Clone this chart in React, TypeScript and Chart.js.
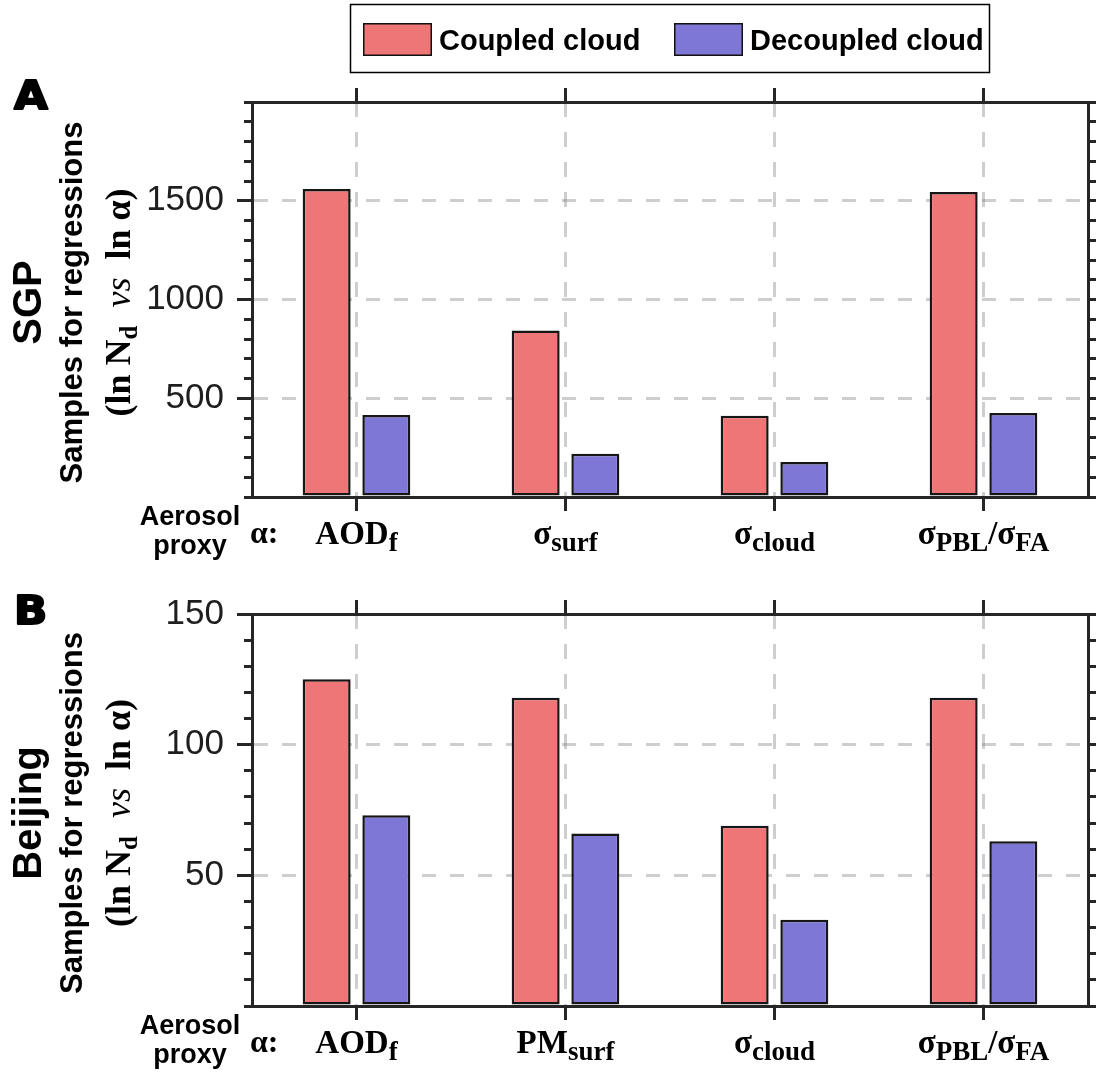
import { useEffect, useRef } from 'react';
import { Chart, registerables } from 'chart.js';

Chart.register(...registerables);

// ---------- data ----------
const seriesNames = ['Coupled cloud', 'Decoupled cloud'];

// SGP site
const sgpProxies = ['AOD_{f}', 'σ_{surf}', 'σ_{cloud}', 'σ_{PBL}/σ_{FA}'];
const sgpCoupled = [1560, 843, 412, 1544];
const sgpDecoupled = [415, 219, 177, 425];
const sgpTickLabels = [500, 1000, 1500];

// Beijing site
const bjProxies = ['AOD_{f}', 'PM_{surf}', 'σ_{cloud}', 'σ_{PBL}/σ_{FA}'];
const bjCoupled = [125, 118, 69, 118];
const bjDecoupled = [73, 66, 33, 63];
const bjTickLabels = [50, 100, 150];

const yTitle = 'Samples for regressions';
const yTitleMath = '(ln N_{d}  *vs*  ln α)';
const proxyCaption = ['Aerosol', 'proxy'];
const alphaCaption = 'α:';

// ---------- styling ----------
const COUPLED_COLOR = '#EF7676';
const DECOUPLED_COLOR = '#7F77D6';
const AXIS = '#262626';
const GRID = 'rgba(120,120,120,0.36)';
const SANS = '"Liberation Sans", Arial, sans-serif';
const SERIF = '"Liberation Serif", "Times New Roman", serif';

type PanelDef = {
  key: string;
  letter: string;
  site: string;
  proxies: string[];
  coupled: number[];
  decoupled: number[];
  tickLabels: number[];
  yMax: number;
  majorStep: number;
  minorStep: number;
  top: number;
  height: number;
  padTop: number;
  xAxisH: number;
  letterY: number;
  legend: boolean;
};

const panels: PanelDef[] = [
  {
    key: 'A', letter: 'A', site: 'SGP', proxies: sgpProxies, coupled: sgpCoupled, decoupled: sgpDecoupled,
    tickLabels: sgpTickLabels, yMax: 2000, majorStep: 500, minorStep: 100,
    top: 0, height: 580, padTop: 102, xAxisH: 83, letterY: 110, legend: true,
  },
  {
    key: 'B', letter: 'B', site: 'Beijing', proxies: bjProxies, coupled: bjCoupled, decoupled: bjDecoupled,
    tickLabels: bjTickLabels, yMax: 150, majorStep: 50, minorStep: 10,
    top: 580, height: 496, padTop: 33, xAxisH: 70, letterY: 45, legend: false,
  },
];

// ---------- rich text (subscripts "_{..}", italics "*..*") ----------
type Run = { text: string; sub: boolean; italic: boolean };

function parseRuns(s: string): Run[] {
  const runs: Run[] = [];
  const re = /_\{([^}]*)\}|\*([^*]*)\*|([^_*]+)/g;
  let m: RegExpExecArray | null;
  while ((m = re.exec(s))) {
    if (m[1] !== undefined) runs.push({ text: m[1], sub: true, italic: false });
    else if (m[2] !== undefined) runs.push({ text: m[2], sub: false, italic: true });
    else runs.push({ text: m[3], sub: false, italic: false });
  }
  return runs;
}

function runFont(r: Run, size: number, subSize: number) {
  if (r.sub) return `bold ${subSize}px ${SERIF}`;
  if (r.italic) return `italic ${size}px ${SERIF}`;
  return `bold ${size}px ${SERIF}`;
}

function drawRich(
  ctx: CanvasRenderingContext2D, s: string, x: number, y: number,
  size: number, subSize: number, align: 'left' | 'center',
) {
  const runs = parseRuns(s);
  let total = 0;
  for (const r of runs) {
    ctx.font = runFont(r, size, subSize);
    total += ctx.measureText(r.text).width;
  }
  let cx = align === 'center' ? x - total / 2 : x;
  ctx.textAlign = 'left';
  ctx.textBaseline = 'alphabetic';
  for (const r of runs) {
    ctx.font = runFont(r, size, subSize);
    ctx.fillText(r.text, cx, y + (r.sub ? size * 0.2 : 0));
    cx += ctx.measureText(r.text).width;
  }
}

// ---------- decorations: panel letter, axis titles, proxy labels, legend ----------
const panelDecor = {
  id: 'panelDecor',
  afterDraw(chart: any, _args: any, opts: any) {
    const { ctx, chartArea } = chart;
    const p: PanelDef = opts.panel;
    const xs = chart.scales.x;
    ctx.save();
    ctx.fillStyle = '#000';
    ctx.strokeStyle = '#000';

    // panel letter (heavy)
    ctx.save();
    ctx.translate(13, p.letterY);
    ctx.scale(1.12, 1);
    ctx.font = `bold 39px "DejaVu Sans", ${SANS}`;
    ctx.textAlign = 'left';
    ctx.textBaseline = 'alphabetic';
    ctx.lineWidth = 2;
    ctx.lineJoin = 'round';
    ctx.fillText(p.letter, 1, -1);
    ctx.strokeText(p.letter, 1, -1);
    ctx.restore();

    // rotated y titles
    const cy = (chartArea.top + chartArea.bottom) / 2 + 3;
    const rotated = (bx: number, draw: () => void) => {
      ctx.save();
      ctx.translate(bx, cy);
      ctx.rotate(-Math.PI / 2);
      draw();
      ctx.restore();
    };
    rotated(41, () => {
      ctx.font = `bold 40px ${SANS}`;
      ctx.textAlign = 'center';
      ctx.fillText(p.site, 0, 0);
    });
    rotated(82, () => {
      ctx.font = `bold 31px ${SANS}`;
      ctx.textAlign = 'center';
      ctx.fillText(yTitle, 0, 0);
    });
    rotated(130, () => {
      drawRich(ctx, yTitleMath, 0, 0, 36, 25, 'center');
    });

    // aerosol proxy captions
    const base = chartArea.bottom;
    ctx.font = `bold 27px ${SANS}`;
    ctx.textAlign = 'center';
    ctx.fillText(proxyCaption[0], 190, base + 28);
    ctx.fillText(proxyCaption[1], 190, base + 57);
    drawRich(ctx, alphaCaption, 250, base + 46, 32, 24, 'left');

    // category labels under each bar pair
    p.proxies.forEach((lab, i) => {
      drawRich(ctx, lab, xs.getPixelForValue(i), base + 47, 33, 27, 'center');
    });

    // legend box
    if (p.legend) {
      ctx.lineWidth = 1.5;
      ctx.fillStyle = '#fff';
      ctx.fillRect(350.5, 4.5, 639, 68);
      ctx.strokeStyle = '#000';
      ctx.strokeRect(350.5, 4.5, 639, 68);
      const swX = [363, 674];
      chart.data.datasets.forEach((ds: any, i: number) => {
        ctx.fillStyle = ds.backgroundColor;
        ctx.fillRect(swX[i], 23, 69, 33);
        ctx.strokeStyle = '#111';
        ctx.lineWidth = 1.5;
        ctx.strokeRect(swX[i] + 0.75, 23.75, 67.5, 31.5);
        ctx.fillStyle = '#000';
        ctx.font = `bold 29px ${SANS}`;
        ctx.textAlign = 'left';
        ctx.fillText(ds.label, swX[i] + 76, 50);
      });
    }
    ctx.restore();
  },
};

function buildConfig(p: PanelDef): any {
  const fixH = (h: number) => (scale: any) => { scale.height = h; };
  const fixW = (w: number) => (scale: any) => { scale.width = w; };
  const isLabelled = (v: number) => p.tickLabels.includes(v);
  return {
    type: 'bar',
    data: {
      labels: p.proxies,
      datasets: [
        {
          label: seriesNames[0], data: p.coupled, backgroundColor: COUPLED_COLOR,
          borderColor: '#161616', borderWidth: 2.5, borderSkipped: false,
          categoryPercentage: 0.571, barPercentage: 0.804, xAxisID: 'x', yAxisID: 'y',
        },
        {
          label: seriesNames[1], data: p.decoupled, backgroundColor: DECOUPLED_COLOR,
          borderColor: '#161616', borderWidth: 2.5, borderSkipped: false,
          categoryPercentage: 0.571, barPercentage: 0.804, xAxisID: 'x', yAxisID: 'y',
        },
      ],
    },
    options: {
      responsive: false,
      animation: false,
      events: [],
      layout: { autoPadding: false, padding: { top: p.padTop, left: 0, right: 0, bottom: 0 } },
      plugins: {
        legend: { display: false },
        tooltip: { enabled: false },
        panelDecor: { panel: p },
      },
      scales: {
        x: {
          type: 'category', position: 'bottom', offset: true, z: 1,
          grid: {
            offset: false, color: GRID, lineWidth: 3, drawTicks: true,
            tickLength: 14, tickColor: AXIS, tickWidth: 3,
          },
          border: { display: true, color: AXIS, width: 3, dash: [15, 15] },
          ticks: { display: false },
          afterFit: fixH(p.xAxisH),
        },
        xTop: {
          type: 'category', position: 'top', offset: true,
          grid: { offset: false, drawOnChartArea: false, tickLength: 14, tickColor: AXIS, tickWidth: 3, color: AXIS },
          border: { display: true, color: AXIS, width: 3 },
          ticks: { display: false },
          afterFit: fixH(0),
        },
        y: {
          type: 'linear', position: 'left', min: 0, max: p.yMax, weight: 1, z: 1,
          ticks: {
            stepSize: p.majorStep, padding: 13, color: '#1e1e1e',
            font: { family: SANS, size: 35 },
            callback: (v: number) => (isLabelled(v) ? String(v) : ''),
          },
          grid: {
            color: (c: any) => (c.tick && isLabelled(c.tick.value) && c.tick.value !== p.yMax ? GRID : 'rgba(0,0,0,0)'),
            lineWidth: 3, tickLength: 15, tickWidth: 3,
            tickColor: (c: any) => (c.tick && isLabelled(c.tick.value) ? AXIS : 'rgba(0,0,0,0)'),
          },
          border: { display: true, color: AXIS, width: 3, dash: [14, 14] },
          afterFit: fixW(252),
        },
        yMinor: {
          type: 'linear', position: 'left', min: 0, max: p.yMax, weight: 0,
          ticks: { display: false, stepSize: p.minorStep, maxTicksLimit: 100 },
          grid: { drawOnChartArea: false, tickLength: 8, tickColor: AXIS, tickWidth: 3, color: AXIS },
          border: { display: false },
          afterFit: fixW(0),
        },
        yR: {
          type: 'linear', position: 'right', min: 0, max: p.yMax,
          ticks: { display: false, stepSize: p.minorStep, maxTicksLimit: 100 },
          grid: { drawOnChartArea: false, tickLength: 8, tickColor: AXIS, tickWidth: 3, color: AXIS },
          border: { display: true, color: AXIS, width: 3 },
          afterFit: fixW(8),
        },
      },
    },
    plugins: [panelDecor],
  };
}

function Panel({ p }: { p: PanelDef }) {
  const ref = useRef<HTMLCanvasElement>(null);
  useEffect(() => {
    const chart = new Chart(ref.current as HTMLCanvasElement, buildConfig(p));
    return () => chart.destroy();
  }, [p]);
  return (
    <canvas
      ref={ref}
      width={1096}
      height={p.height}
      style={{ position: 'absolute', left: 0, top: p.top, width: 1096, height: p.height, display: 'block' }}
    />
  );
}

export default function App() {
  return (
    <div style={{ position: 'absolute', left: 0, top: 0, width: 1096, height: 1076, background: '#fff' }}>
      {panels.map((p) => (
        <Panel key={p.key} p={p} />
      ))}
    </div>
  );
}
